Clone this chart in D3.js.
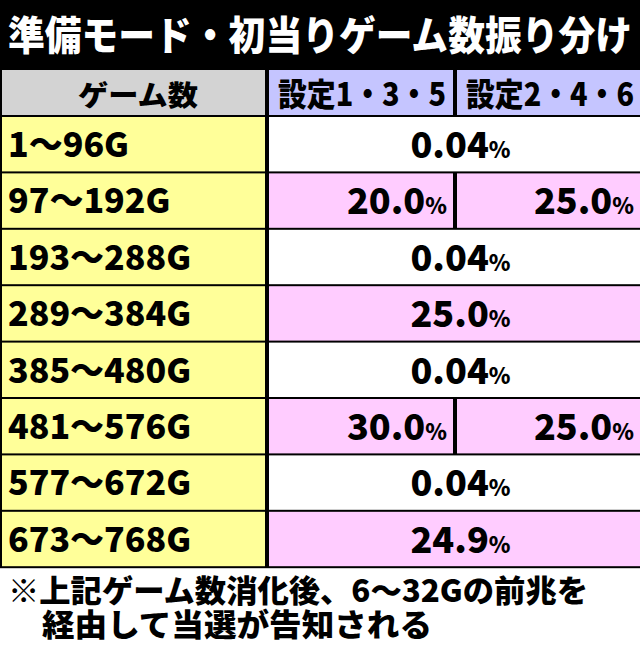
<!DOCTYPE html>
<html><head><meta charset="utf-8">
<script src="https://cdn.jsdelivr.net/npm/d3@7"></script>
<style>body{margin:0;background:#fff}svg{display:block;font-family:"Noto Sans CJK JP";font-weight:900}</style>
</head><body><div id="chart"></div>
<script>
var title = "準備モード・初当りゲーム数振り分け";
var headers = ["ゲーム数", "設定1・3・5", "設定2・4・6"];
var ranges = ["1～96G","97～192G","193～288G","289～384G","385～480G","481～576G","577～672G","673～768G"];
var set135 = ["0.04","20.0","0.04","25.0","0.04","30.0","0.04","24.9"];
var set246 = ["0.04","25.0","0.04","25.0","0.04","25.0","0.04","24.9"];
var note = ["※上記ゲーム数消化後、6～32Gの前兆を", "経由して当選が告知される"];

var W = 640, H = 650, top0 = 68, headH = 47, rowH = 56.4;
var svg = d3.select("#chart").append("svg").attr("width", W).attr("height", H);
svg.append("rect").attr("width", W).attr("height", top0 + headH + rowH * ranges.length + 2).attr("fill", "#000");
svg.append("text").attr("x", 8).attr("y", 50).attr("textLength", 624).attr("lengthAdjust", "spacingAndGlyphs")
  .attr("fill", "#fff").attr("font-size", 40).text(title);

var x = d3.scaleLinear().domain([0, 1, 2, 3]).range([0, 267, 455, 642]);
var y = d3.scaleLinear().domain([0, ranges.length]).range([top0 + headH, top0 + headH + rowH * ranges.length]);
var g = 2;

// header
headers.forEach(function(h, i) {
  svg.append("rect").attr("x", x(i) + g).attr("y", top0 + g).attr("width", x(i + 1) - x(i) - g * 2).attr("height", headH - g)
    .attr("fill", i == 0 ? "#d3d3d3" : "#c5c5ff");
  var t = svg.append("text").attr("x", i == 0 ? 78 : x(i) + 11).attr("y", top0 + 38)
    .attr("font-size", i == 0 ? 28 : 32).text(h);
  if (i > 0) t.attr("textLength", 168).attr("lengthAdjust", "spacingAndGlyphs");
  else t.attr("textLength", 120).attr("lengthAdjust", "spacingAndGlyphs");
});

function pct(t, v, fs) {
  t.append("tspan").attr("font-size", fs).text(v);
  t.append("tspan").attr("font-size", 22).text("%");
}

ranges.forEach(function(r, i) {
  var y0 = y(i), hl = set135[i] !== "0.04";
  var fill = hl ? "#ffccff" : "#fff";
  svg.append("rect").attr("x", g).attr("y", y0 + g).attr("width", x(1) - g * 2).attr("height", rowH - g)
    .attr("fill", "#ffff99");
  svg.append("text").attr("x", 8).attr("y", y0 + 42).attr("font-size", 34).text(r);
  if (set135[i] === set246[i]) {
    svg.append("rect").attr("x", x(1) + g).attr("y", y0 + g).attr("width", x(3) - x(1) - g * 2).attr("height", rowH - g).attr("fill", fill);
    pct(svg.append("text").attr("x", (x(1) + x(3)) / 2 + 6).attr("y", y0 + 43).attr("text-anchor", "middle"), set135[i], 36);
  } else {
    [set135[i], set246[i]].forEach(function(v, j) {
      svg.append("rect").attr("x", x(j + 1) + g).attr("y", y0 + g).attr("width", x(j + 2) - x(j + 1) - g * 2).attr("height", rowH - g).attr("fill", fill);
      pct(svg.append("text").attr("x", x(j + 2) - 8).attr("y", y0 + 43).attr("text-anchor", "end"), v, 36);
    });
  }
});

var noteX = [8, 42], noteW = [580, 390];
note.forEach(function(n, i) {
  svg.append("text").attr("x", noteX[i]).attr("y", 602 + i * 34).attr("font-size", 31)
    .attr("textLength", noteW[i]).attr("lengthAdjust", "spacingAndGlyphs").text(n);
});
</script></body></html>
